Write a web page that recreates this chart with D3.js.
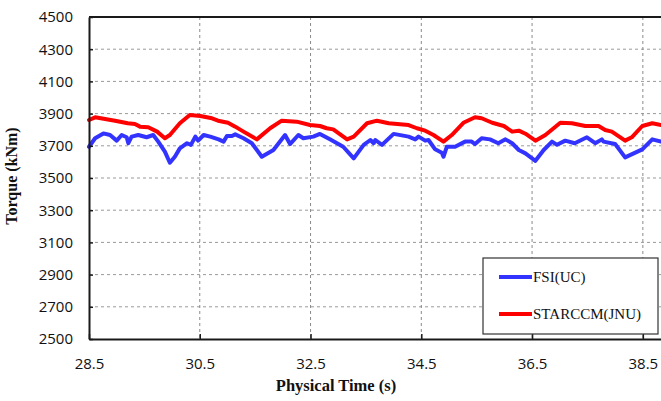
<!DOCTYPE html>
<html>
<head>
<meta charset="utf-8">
<script src="https://cdn.jsdelivr.net/npm/d3@7"></script>
<style>
  body { margin: 0; background: #fff; }
  svg { display: block; }
</style>
</head>
<body>
<div id="chart"></div>
<script>
// Data: time (s) and torque (kNm)
var fsiTime = [28.5, 28.61, 28.76, 28.88, 29.0, 29.09, 29.18, 29.21, 29.27, 29.39, 29.54, 29.66, 29.75, 29.87, 29.96,
  30.05, 30.14, 30.27, 30.34, 30.42, 30.47, 30.57, 30.69, 30.84, 30.93, 30.99, 31.08, 31.14, 31.29, 31.44, 31.62,
  31.83, 32.04, 32.13, 32.28, 32.37, 32.55, 32.67, 32.85, 33.09, 33.28, 33.46, 33.58, 33.64, 33.67, 33.79, 34.0,
  34.27, 34.39, 34.45, 34.57, 34.63, 34.75, 34.87, 34.9, 34.96, 35.11, 35.29, 35.41, 35.47, 35.59, 35.74, 35.89,
  36.02, 36.14, 36.26, 36.38, 36.56, 36.71, 36.86, 36.95, 37.1, 37.27, 37.49, 37.64, 37.76, 37.79, 38.0, 38.18,
  38.49, 38.67, 38.83];
var fsiTorque = [3694, 3747, 3777, 3767, 3732, 3767, 3753, 3716, 3757, 3767, 3753, 3767, 3726, 3664, 3595,
  3632, 3684, 3716, 3706, 3757, 3732, 3767, 3757, 3740, 3726, 3761, 3761, 3771, 3747, 3716, 3632,
  3674, 3767, 3711, 3767, 3747, 3757, 3774, 3740, 3694, 3622, 3706, 3736, 3716, 3736, 3706, 3774,
  3757, 3740, 3757, 3732, 3736, 3678, 3657, 3632, 3694, 3694, 3726, 3726, 3711, 3747, 3740, 3716,
  3740, 3716, 3674, 3653, 3607, 3674, 3726, 3706, 3732, 3716, 3753, 3716, 3740, 3726, 3711, 3628,
  3678, 3740, 3726];

var starTime = [28.5, 28.61, 28.97, 29.2, 29.33, 29.42, 29.57, 29.73, 29.87, 29.96, 30.14, 30.32, 30.51, 30.72,
  30.83, 31.01, 31.14, 31.29, 31.53, 31.77, 31.98, 32.25, 32.49, 32.67, 32.79, 32.91, 33.16, 33.28, 33.52,
  33.7, 33.91, 34.27, 34.42, 34.57, 34.72, 34.9, 35.05, 35.26, 35.47, 35.59, 35.78, 35.99, 36.14, 36.26,
  36.38, 36.56, 36.74, 37.01, 37.22, 37.46, 37.7, 37.82, 37.94, 38.18, 38.3, 38.49, 38.67, 38.83];
var starTorque = [3860, 3877, 3856, 3840, 3835, 3819, 3815, 3788, 3747, 3767, 3840, 3891, 3885, 3871,
  3856, 3843, 3819, 3788, 3740, 3809, 3856, 3850, 3829, 3823, 3809, 3802, 3740, 3757, 3840,
  3856, 3840, 3829, 3809, 3794, 3767, 3726, 3767, 3843, 3877, 3871, 3843, 3823, 3788, 3794,
  3775, 3732, 3767, 3843, 3840, 3823, 3823, 3798, 3788, 3732, 3753, 3823, 3840, 3829];

var xTicks = [28.5, 30.5, 32.5, 34.5, 36.5, 38.5];
var yTicks = [2500, 2700, 2900, 3100, 3300, 3500, 3700, 3900, 4100, 4300, 4500];
var seriesNames = ["FSI(UC)", "STARCCM(JNU)"];
var seriesColors = ["#3333ff", "#ff0000"];

// Set the dimensions and margins of the graph
var margin = { top: 17, right: 0, bottom: 62, left: 89 },
    width = 576,
    height = 401 - margin.top - margin.bottom;

var svg = d3.select("#chart")
  .append("svg")
    .attr("width", 661)
    .attr("height", 401)
  .append("g")
    .attr("transform", "translate(" + margin.left + "," + margin.top + ")");

var x = d3.scaleLinear().domain([28.5, 38.9]).range([0, width]);
var y = d3.scaleLinear().domain([2500, 4500]).range([height, 0]);

// Dashed grid
svg.append("g")
  .selectAll("line")
  .data(yTicks.slice(1, -1))
  .enter()
  .append("line")
    .attr("x1", 0).attr("x2", width)
    .attr("y1", function (d) { return y(d); })
    .attr("y2", function (d) { return y(d); })
    .attr("stroke", "#9a9a9a")
    .attr("stroke-dasharray", "3,3");
svg.append("g")
  .selectAll("line")
  .data(xTicks.slice(1))
  .enter()
  .append("line")
    .attr("x1", function (d) { return x(d); })
    .attr("x2", function (d) { return x(d); })
    .attr("y1", 0).attr("y2", height)
    .attr("stroke", "#8a8a8a")
    .attr("stroke-dasharray", "3,3");

// Series lines
var line = d3.line()
  .x(function (d) { return x(d[0]); })
  .y(function (d) { return y(d[1]); });

var fsiData = d3.zip(fsiTime, fsiTorque);
var starData = d3.zip(starTime, starTorque);

[fsiData, starData].forEach(function (data, i) {
  svg.append("path")
    .datum(data)
    .attr("fill", "none")
    .attr("stroke", seriesColors[i])
    .attr("stroke-width", 4)
    .attr("stroke-linejoin", "round")
    .attr("stroke-linecap", "round")
    .attr("d", line);
});

// Frame: top line
svg.append("line")
  .attr("x1", 0).attr("x2", width)
  .attr("y1", 0).attr("y2", 0)
  .attr("stroke", "#1a1a1a")
  .attr("stroke-width", 2);

// Axes
var xAxis = svg.append("g")
  .attr("transform", "translate(0," + height + ")")
  .call(d3.axisBottom(x).tickValues(xTicks).tickSizeInner(-5).tickSizeOuter(0).tickPadding(19)
    .tickFormat(d3.format(".1f")));
var yAxis = svg.append("g")
  .call(d3.axisLeft(y).tickValues(yTicks).tickSizeInner(-4).tickSizeOuter(0).tickPadding(16)
    .tickFormat(d3.format("d")));

[xAxis, yAxis].forEach(function (a) {
  a.select(".domain").attr("stroke", "#1a1a1a").attr("stroke-width", 2);
  a.selectAll(".tick line").attr("stroke", "#1a1a1a").attr("stroke-width", 1.5);
  a.selectAll("text")
    .attr("fill", "#111")
    .style("font-family", "'Open Sans', 'Noto Sans', sans-serif")
    .style("font-size", "15px");
});

// Legend
var legend = svg.append("g")
  .attr("transform", "translate(" + (483 - margin.left) + "," + (258 - margin.top) + ")");
legend.append("rect")
  .attr("x", 0).attr("y", 0)
  .attr("width", 175).attr("height", 76)
  .attr("fill", "#fff")
  .attr("stroke", "#333")
  .attr("stroke-width", 1.2);
seriesNames.forEach(function (name, i) {
  var ly = 19 + i * 37;
  legend.append("line")
    .attr("x1", 16).attr("x2", 49)
    .attr("y1", ly).attr("y2", ly)
    .attr("stroke", seriesColors[i])
    .attr("stroke-width", 4);
  legend.append("text")
    .attr("x", 50)
    .attr("y", ly + 5)
    .style("font-family", "'Liberation Serif', serif")
    .style("font-size", "15px")
    .attr("fill", "#111")
    .text(name);
});

// X-axis label
svg.append("text")
  .attr("x", 336 - margin.left)
  .attr("y", 391 - margin.top)
  .style("text-anchor", "middle")
  .style("font-family", "'Liberation Serif', serif")
  .style("font-weight", "bold")
  .style("font-size", "16.5px")
  .attr("fill", "#111")
  .text("Physical Time (s)");

// Y-axis label
svg.append("text")
  .attr("transform", "translate(" + (17 - margin.left) + "," + (176 - margin.top) + ") rotate(-90)")
  .style("text-anchor", "middle")
  .style("font-family", "'Liberation Serif', serif")
  .style("font-weight", "bold")
  .style("font-size", "16px")
  .attr("fill", "#111")
  .text("Torque (kNm)");
</script>
</body>
</html>
